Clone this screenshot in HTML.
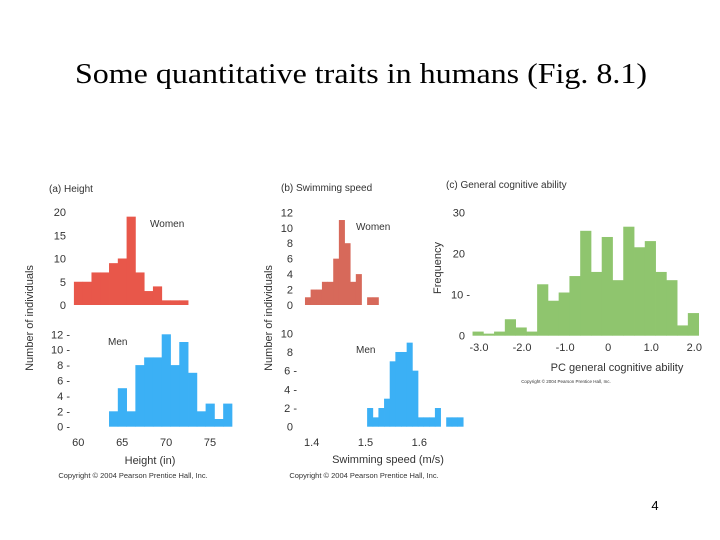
<!DOCTYPE html>
<html><head><meta charset="utf-8"><style>
html,body{margin:0;padding:0;background:#fff;}
svg{display:block;font-family:"Liberation Sans",sans-serif;}
</style></head><body>
<svg id="fig" width="720" height="540" viewBox="0 0 720 540">
<text x="361" y="83" font-family="Liberation Serif, serif" font-size="28" text-anchor="middle" textLength="572" lengthAdjust="spacingAndGlyphs" fill="#000">Some quantitative traits in humans (Fig. 8.1)</text>
<text x="655" y="510" font-size="13" text-anchor="middle" fill="#000">4</text>
<g id="plots"></g>
</svg>
<script>
// Panel a: height (bins of 1 inch)
const heightWomenStart = 59.5;
const heightWomen = [5,5,7,7,9,10,19,7,3,4,1,1,1];
const heightMenStart = 63.5;
const heightMen = [2,5,2,8,9,9,12,8,11,7,2,3,1,3];
const heightXTicks = [60,65,70,75];
const heightWomenYTicks = [0,5,10,15,20];
const heightMenYTicks = [0,2,4,6,8,10,12];
// Panel b: swimming speed
const swimBinWidth = 0.0105;
const swimWomenStart = 1.3875;
const swimWomen = [1,2,2,3,3,6,11,8,3,4,0,1,1];
const swimMenStart = 1.503;
const swimMen = [2,1,2,3,7,8,8,9,6,1,1,1,2,0,1,1,1];
const swimXTicks = [1.4,1.5,1.6];
const swimWomenYTicks = [0,2,4,6,8,10,12];
const swimMenYTicks = [0,2,4,6,8,10];
// Panel c: cognitive ability
const cogStart = -3.15;
const cogBinWidth = 0.25;
const cogFreq = [1,0.5,1,4,2,1,12.5,8.5,10.5,14.5,25.5,15.5,24,13.5,26.5,21.5,23,15.5,13.5,2.5,5.5];
const cogXTicks = [-3.0,-2.0,-1.0,0,1.0,2.0];
const cogXLabels = ["-3.0","-2.0","-1.0","0","1.0","2.0"];
const cogYTicks = [0,10,20,30];

const NS="http://www.w3.org/2000/svg";
const root=document.getElementById('plots');
function mk(tag,attrs,parent){const e=document.createElementNS(NS,tag);for(const k in attrs)e.setAttribute(k,attrs[k]);(parent||root).appendChild(e);return e;}
function txt(s,x,y,size,anchor,name,fill){const t=mk('text',{x:x,y:y,'font-size':size,'text-anchor':anchor||'start',fill:fill||'#333'});t.textContent=s;


return t;}
function lin(d0,d1,r0,r1){return v=>r0+(v-d0)*(r1-r0)/(d1-d0);}

function hist(values,start,width,xs,ys,color,name){
  const g=mk('g',{});
  
  
  values.forEach((v,i)=>{ if(v<=0) return;
    const x0=xs(start+i*width), x1=xs(start+(i+1)*width);
    const r=mk('rect',{x:x0,y:ys(v),width:x1-x0+0.4,height:ys(0)-ys(v),fill:color},g);
    
    
  });
}
function yticks(ticks,ys,x,name,dash){
  ticks.forEach(t=>{txt(String(t)+(dash?' -':''),x,ys(t)+4,11,'end',name+'-'+t);});
}

// Panel a
const ax=lin(60,75,78.3,210);
const awy=lin(0,20,305,212);
const amy=lin(0,12,426.7,334.3);
txt('(a) Height',49,192,10,'start','panel-a-title');
hist(heightWomen,heightWomenStart,1,ax,awy,'#e8574a','height-women-hist');
hist(heightMen,heightMenStart,1,ax,amy,'#3bb0f5','height-men-hist');
yticks(heightWomenYTicks,awy,66,'height-women-ytick',false);
yticks(heightMenYTicks,amy,70,'height-men-ytick',true);
heightXTicks.forEach(t=>txt(String(t),ax(t),446,11,'middle','height-xtick-'+t));
txt('Women',150,227,10,'start','height-women-label');
txt('Men',108,345,10,'start','height-men-label');
txt('Height (in)',150,464,11,'middle','height-x-title');
txt('Copyright © 2004 Pearson Prentice Hall, Inc.',133,478,7.5,'middle','height-copyright');
const ya=txt('Number of individuals',0,0,11,'middle','height-y-title');
ya.setAttribute('transform','translate(33,318) rotate(-90)');

// Panel b
const bx=lin(1.4,1.6,311.7,419.3);
const bwy=lin(0,12,305,212.3);
const bmy=lin(0,10,426.7,333.3);
txt('(b) Swimming speed',281,191,10,'start','panel-b-title');
hist(swimWomen,swimWomenStart,swimBinWidth,bx,bwy,'#d7695a','swim-women-hist');
hist(swimMen,swimMenStart,swimBinWidth,bx,bmy,'#3bb0f5','swim-men-hist');
yticks(swimWomenYTicks,bwy,293,'swim-women-ytick',false);
swimMenYTicks.forEach(t=>txt(String(t)+(t>=2&&t<=6?' -':''),t>=2&&t<=6?297:293,bmy(t)+4,11,'end','swim-men-ytick-'+t));
swimXTicks.forEach(t=>txt(t.toFixed(1),bx(t),446,11,'middle','swim-xtick-'+t));
txt('Women',356,230,10,'start','swim-women-label');
txt('Men',356,353,10,'start','swim-men-label');
txt('Swimming speed (m/s)',388,463,11,'middle','swim-x-title');
txt('Copyright © 2004 Pearson Prentice Hall, Inc.',364,478,7.5,'middle','swim-copyright');
const yb=txt('Number of individuals',0,0,11,'middle','swim-y-title');
yb.setAttribute('transform','translate(272,318) rotate(-90)');

// Panel c
const cx=lin(-3,2,479,694.3);
const cy=lin(0,30,335.7,212.3);
txt('(c) General cognitive ability',446,188,10,'start','panel-c-title');
hist(cogFreq,cogStart,cogBinWidth,cx,cy,'#8fc56e','cognitive-hist');
cogYTicks.forEach(t=>txt(String(t)+(t===10?' -':''),t===10?470:465,cy(t)+4,11,'end','cog-ytick-'+t));
cogXTicks.forEach((t,i)=>txt(cogXLabels[i],cx(t),351,11,'middle','cog-xtick-'+i));
txt('PC general cognitive ability',617,371,11,'middle','cog-x-title');
txt('Copyright © 2004 Pearson Prentice Hall, Inc.',566,383,4.5,'middle','cog-copyright');
const yc=txt('Frequency',0,0,11,'middle','cog-y-title');
yc.setAttribute('transform','translate(441,268) rotate(-90)');
</script>
</body></html>
